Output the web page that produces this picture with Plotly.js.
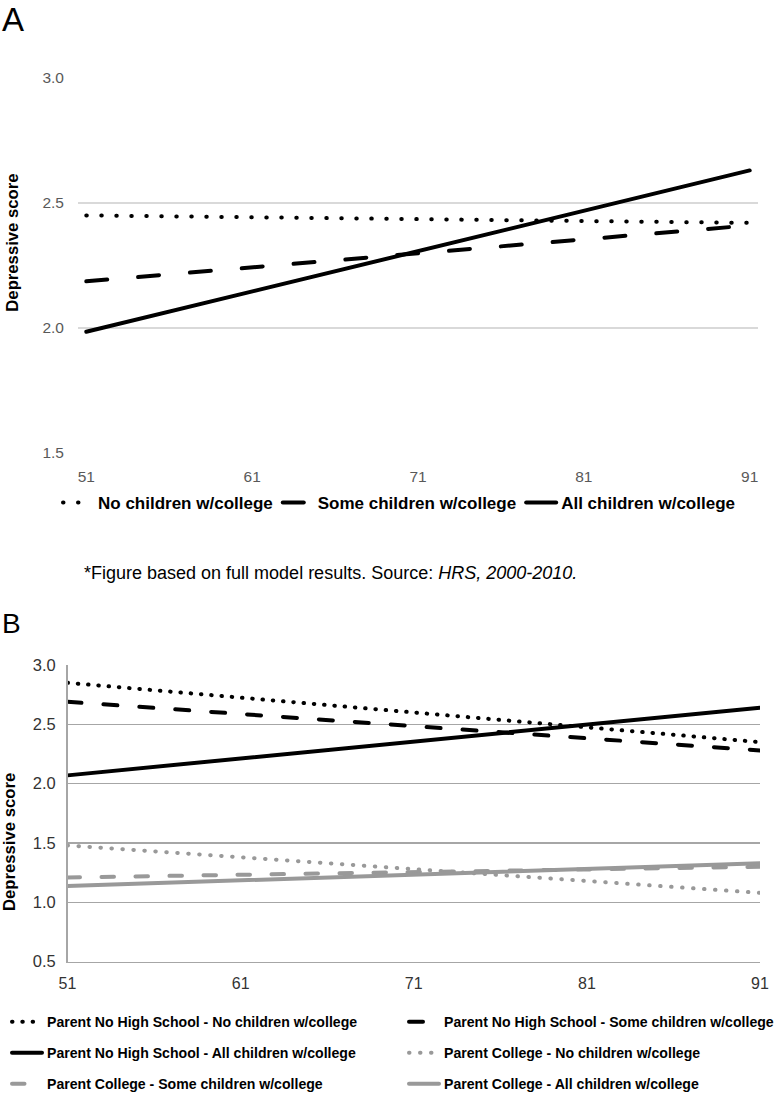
<!DOCTYPE html>
<html>
<head>
<meta charset="utf-8">
<script src="https://cdn.plot.ly/plotly-3.0.1.min.js"></script>
<style>
  html, body { margin: 0; padding: 0; background: #fff; }
  .js-line { stroke-linecap: round; }
</style>
</head>
<body>
<div id="chart" style="width:780px;height:1095px;"></div>
<script>
// ---------- data ----------
const ages = [51, 91];
const xTicks = [51, 61, 71, 81, 91];

// Panel A
const seriesNamesA = ['No children w/college', 'Some children w/college', 'All children w/college'];
const noChildA   = [2.45, 2.42];
const someChildA = [2.186, 2.41];
const allChildA  = [1.984, 2.63];

// Panel B
const seriesNamesB = [
  'Parent No High School - No children w/college',
  'Parent No High School - Some children w/college',
  'Parent No High School - All children w/college',
  'Parent College - No children w/college',
  'Parent College - Some children w/college',
  'Parent College - All children w/college'
];
const nhsNone = [2.85, 2.35];
const nhsSome = [2.69, 2.28];
const nhsAll  = [2.07, 2.64];
const colNone = [1.48, 1.08];
const colSome = [1.21, 1.30];
const colAll  = [1.137, 1.33];

// ---------- helpers ----------
const W = 780, H = 1095;
const px = v => v / W;
const py = v => 1 - v / H;
const FONT = 'Liberation Sans, Arial, Helvetica, sans-serif';

function tr(x, y, name, xa, ya, color, width, dash, legend) {
  return {
    type: 'scatter', mode: 'lines', x: x, y: y, name: name,
    xaxis: xa, yaxis: ya, legend: legend,
    line: { color: color, width: width, dash: dash },
    hoverinfo: 'skip'
  };
}

const BLACK = '#000000', GRAY = '#999999';

const data = [
  tr(ages, noChildA,   seriesNamesA[0], 'x', 'y', BLACK, 4, '0.5px,14.5px', 'legend'),
  tr(ages, someChildA, seriesNamesA[1], 'x', 'y', BLACK, 4, '21px,31px', 'legend'),
  tr(ages, allChildA,  seriesNamesA[2], 'x', 'y', BLACK, 4, 'solid', 'legend'),

  tr(ages, nhsNone, seriesNamesB[0], 'x2', 'y2', BLACK, 4, '0.5px,9.8px', 'legend2'),
  tr(ages, nhsSome, seriesNamesB[1], 'x2', 'y2', BLACK, 4, '14px,22px', 'legend3'),
  tr(ages, nhsAll,  seriesNamesB[2], 'x2', 'y2', BLACK, 4, 'solid', 'legend4'),
  tr(ages, colNone, seriesNamesB[3], 'x2', 'y2', GRAY, 4, '0.5px,10.5px', 'legend5'),
  tr(ages, colSome, seriesNamesB[4], 'x2', 'y2', GRAY, 4, '12.5px,21.5px', 'legend6'),
  tr(ages, colAll,  seriesNamesB[5], 'x2', 'y2', GRAY, 4, 'solid', 'legend7')
];

const legFontA = { family: FONT, size: 17, color: '#000', weight: 700 };
const legFontB = { family: FONT, size: 14.1, color: '#000', weight: 700 };

function legB(xl, yc) {
  return {
    orientation: 'h', x: px(xl), xanchor: 'left', y: py(yc), yanchor: 'middle',
    font: legFontB, bgcolor: 'rgba(0,0,0,0)', borderwidth: 0, traceorder: 'normal'
  };
}

const layout = {
  width: W, height: H,
  margin: { l: 0, r: 0, t: 0, b: 0, pad: 0, autoexpand: false },
  paper_bgcolor: '#fff', plot_bgcolor: '#fff',
  font: { family: FONT, color: '#000' },
  showlegend: true,
  xaxis: {
    domain: [px(78), px(758)], range: [50.5, 91.5], anchor: 'y',
    tickvals: xTicks, ticktext: xTicks.map(String),
    showgrid: false, zeroline: false, showline: false, ticks: '',
    tickfont: { family: FONT, size: 15.5, color: '#595959' },
    ticklabelstandoff: 13, fixedrange: true, automargin: false
  },
  yaxis: {
    domain: [py(452.7), py(78)], range: [1.5, 3.0], anchor: 'x',
    tickvals: [1.5, 2.0, 2.5, 3.0], ticktext: ['1.5', '2.0', '2.5', '3.0'],
    showgrid: true, gridcolor: '#d9d9d9', gridwidth: 1.5,
    zeroline: false, showline: false, ticks: '',
    tickfont: { family: FONT, size: 15.5, color: '#595959' },
    ticklabelstandoff: 13, fixedrange: true, automargin: false
  },
  xaxis2: {
    domain: [px(67.5), px(760)], range: [51, 91], anchor: 'y2',
    tickvals: xTicks, ticktext: xTicks.map(String),
    showgrid: false, zeroline: false, showline: true, linecolor: '#a6a6a6', linewidth: 1.5,
    ticks: '', tickfont: { family: FONT, size: 16, color: '#333' },
    ticklabelstandoff: 7, fixedrange: true, automargin: false
  },
  yaxis2: {
    domain: [py(961.7), py(665)], range: [0.5, 3.0], anchor: 'x2',
    tickvals: [0.5, 1.0, 1.5, 2.0, 2.5, 3.0], ticktext: ['0.5', '1.0', '1.5', '2.0', '2.5', '3.0'],
    showgrid: true, gridcolor: '#a6a6a6', gridwidth: 1.5,
    zeroline: false, showline: true, linecolor: '#a6a6a6', linewidth: 1.5,
    ticks: '', tickfont: { family: FONT, size: 16.5, color: '#333' },
    ticklabelstandoff: 7, fixedrange: true, automargin: false
  },
  legend: {
    orientation: 'h', x: px(58), xanchor: 'left', y: py(503), yanchor: 'middle',
    font: legFontA, bgcolor: 'rgba(0,0,0,0)', borderwidth: 0, traceorder: 'normal'
  },
  legend2: legB(7, 1022),
  legend3: legB(404, 1022),
  legend4: legB(7, 1053),
  legend5: legB(404, 1053),
  legend6: legB(7, 1084),
  legend7: legB(404, 1084),
  annotations: [
    { text: 'A', xref: 'paper', yref: 'paper', x: px(0), y: py(19.2), xanchor: 'left', yanchor: 'middle',
      showarrow: false, font: { family: FONT, size: 33, color: '#000' } },
    { text: 'B', xref: 'paper', yref: 'paper', x: px(0), y: py(623), xanchor: 'left', yanchor: 'middle',
      showarrow: false, font: { family: FONT, size: 28, color: '#000' } },
    { text: 'Depressive score', xref: 'paper', yref: 'paper', x: px(12.7), y: py(243), textangle: -90,
      xanchor: 'center', yanchor: 'middle', showarrow: false,
      font: { family: FONT, size: 16.7, color: '#000', weight: 700 } },
    { text: 'Depressive score', xref: 'paper', yref: 'paper', x: px(9), y: py(842), textangle: -90,
      xanchor: 'center', yanchor: 'middle', showarrow: false,
      font: { family: FONT, size: 16.7, color: '#000', weight: 700 } },
    { text: '*Figure based on full model results. Source: <i>HRS, 2000-2010.</i>', xref: 'paper', yref: 'paper',
      x: px(82), y: py(573), xanchor: 'left', yanchor: 'middle', showarrow: false,
      font: { family: FONT, size: 18, color: '#000' } }
  ]
};

Plotly.newPlot('chart', data, layout, { staticPlot: true, displayModeBar: false });
</script>
</body>
</html>
